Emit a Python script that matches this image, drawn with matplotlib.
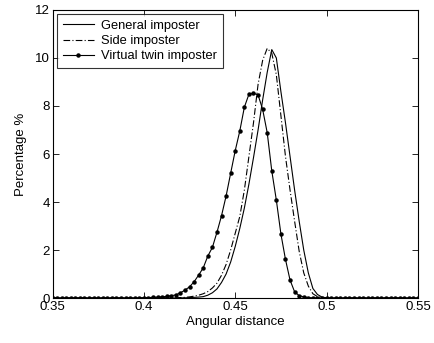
import numpy as np
import matplotlib
matplotlib.use("Agg")
import matplotlib.pyplot as plt

plt.rcParams['font.family'] = ['Liberation Sans', 'DejaVu Sans']

# distancias angulares (paso 0.0025 de 0.35 a 0.55)
distancia = np.round(np.arange(0.35, 0.5501, 0.0025), 4)

# valores, desde 0.4 hasta 0.5 (antes y despues: 0)
general_tramo = [0, 0, 0, 0, 0, 0, 0, 0, 0.01, 0.01,          # 0.40 - 0.4225
                 0.02, 0.03, 0.04, 0.06, 0.12, 0.22, 0.38, 0.65,  # 0.425 - 0.4425
                 1.0, 1.5, 2.15, 2.9, 3.75, 4.75, 5.85, 7.0,      # 0.445 - 0.4625
                 8.25, 9.4, 10.35, 10.0, 8.6, 7.3, 5.9, 4.5,      # 0.465 - 0.4825
                 3.2, 2.0, 1.05, 0.4, 0.15, 0.04, 0.01]           # 0.485 - 0.50
lateral_tramo = [0, 0, 0, 0.01, 0.01, 0.01, 0.01, 0.01, 0.02, 0.03,
                 0.05, 0.08, 0.12, 0.18, 0.27, 0.42, 0.62, 0.95,
                 1.4, 2.0, 2.7, 3.4, 4.5, 5.9, 7.3, 8.9,
                 9.9, 10.4, 10.2, 9.3, 7.6, 5.9, 4.5, 3.2,
                 1.95, 1.05, 0.5, 0.18, 0.06, 0.02, 0.0]
gemelo_tramo = [0.01, 0.02, 0.03, 0.04, 0.05, 0.07, 0.10, 0.13, 0.22, 0.33,
                0.47, 0.68, 0.96, 1.26, 1.75, 2.11, 2.74, 3.43,
                4.25, 5.2, 6.14, 6.96, 7.95, 8.49, 8.53, 8.46,
                7.86, 6.89, 5.3, 4.08, 2.67, 1.61, 0.75, 0.26,
                0.1, 0.05, 0.02, 0.01, 0, 0, 0]

ceros_antes = [0] * 20
ceros_despues = [0] * 20
general = np.array(ceros_antes + general_tramo + ceros_despues)
lateral = np.array(ceros_antes + lateral_tramo + ceros_despues)
gemelo = np.array(ceros_antes + gemelo_tramo + ceros_despues)

xticks = [0.35, 0.4, 0.45, 0.5, 0.55]
xticklabels = ['0.35', '0.4', '0.45', '0.5', '0.55']
yticks = [0, 2, 4, 6, 8, 10, 12]

fig = plt.figure(figsize=(4.34, 3.43), dpi=100)
ax = fig.add_axes([0.121, 0.131, 0.842, 0.840])

ax.plot(distancia, general, color='black', lw=0.8, label='General imposter')
ax.plot(distancia, lateral, color='black', lw=0.8, linestyle=(0, (6, 2, 1, 2)),
        label='Side imposter')
ax.plot(distancia, gemelo, color='black', lw=0.8, marker='o', markersize=2.2,
        label='Virtual twin imposter')

ax.set_xlim(0.35, 0.55)
ax.set_ylim(0, 12)
ax.set_xticks(xticks)
ax.set_xticklabels(xticklabels)
ax.set_yticks(yticks)
ax.tick_params(direction='in', top=True, right=True, labelsize=9.5, length=4,
               width=0.6, pad=2, colors='black')
for s in ax.spines.values():
    s.set_linewidth(0.8)

ax.set_xlabel('Angular distance', fontsize=9.5, labelpad=2)
ax.set_ylabel('Percentage %', fontsize=9.5, labelpad=6)

leg = ax.legend(loc='upper left', bbox_to_anchor=(0.012, 0.986), fontsize=9.3,
                frameon=True, fancybox=False, edgecolor='black',
                borderaxespad=0, handlelength=2.4, handletextpad=0.6,
                labelspacing=0.25, borderpad=0.45)
leg.get_frame().set_linewidth(0.8)

plt.savefig('out.png', dpi=100)
